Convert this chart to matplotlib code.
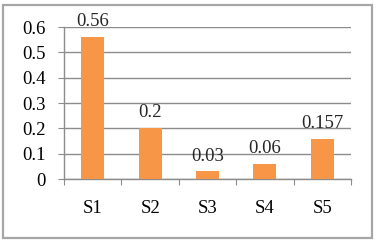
import matplotlib
matplotlib.use("Agg")
import matplotlib.pyplot as plt
from matplotlib.patches import Rectangle
import numpy as np

categories = ["S1", "S2", "S3", "S4", "S5"]
values = [0.56, 0.2, 0.03, 0.06, 0.157]
value_labels = ["0.56", "0.2", "0.03", "0.06", "0.157"]
y_ticks = [0, 0.1, 0.2, 0.3, 0.4, 0.5, 0.6]
y_tick_labels = ["0", "0.1", "0.2", "0.3", "0.4", "0.5", "0.6"]

plt.rcParams["font.family"] = ["Liberation Serif", "DejaVu Serif"]
fs = 13.5

fig = plt.figure(figsize=(3.77, 2.44), dpi=100)
ax = fig.add_axes([0.170, 0.266, 0.761, 0.623])

# outer frame around the chart
fig.patches.append(Rectangle((3 / 377, 1 - 238 / 244), 369 / 377, 233 / 244,
                             transform=fig.transFigure, fill=False,
                             edgecolor="#a6a6a6", linewidth=1.6))

x = np.arange(len(categories)) + 0.5
ax.bar(x, values, width=0.4, color="#F79646", zorder=3)

for xi, v, lab in zip(x, values, value_labels):
    ax.annotate(lab, (xi, v), xytext=(0, 5), textcoords="offset points",
                ha="center", va="bottom", fontsize=fs, color="#262626")

ax.set_xlim(0, len(categories))
ax.set_ylim(0, 0.6)
ax.set_yticks(y_ticks)
ax.set_yticklabels(y_tick_labels, fontsize=fs)
ax.yaxis.grid(True, color="#8c8c8c", linewidth=1.0, zorder=0)

# boundary ticks on x axis, labels centered on categories
ax.set_xticks(np.arange(len(categories) + 1))
ax.set_xticklabels([])
ax.set_xticks(x, minor=True)
ax.set_xticklabels(categories, minor=True, fontsize=fs)
ax.tick_params(axis="x", which="minor", length=0, pad=15)
ax.tick_params(axis="x", which="major", length=4, color="#8c8c8c", direction="out")
ax.tick_params(axis="y", length=4, color="#8c8c8c", pad=9)

for s in ["top", "right"]:
    ax.spines[s].set_visible(False)
for s in ["left", "bottom"]:
    ax.spines[s].set_color("#8c8c8c")
    ax.spines[s].set_linewidth(1.0)

fig.savefig("out.png", dpi=100)
